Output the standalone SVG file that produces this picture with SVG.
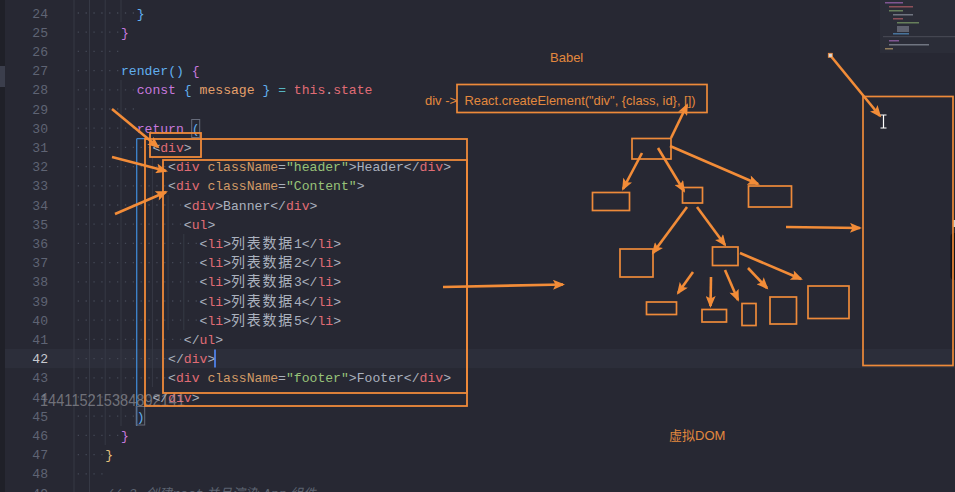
<svg xmlns="http://www.w3.org/2000/svg" width="955" height="492" viewBox="0 0 955 492">
<defs>
<marker id="ah" viewBox="0 0 12 10" markerWidth="13" markerHeight="10" refX="10" refY="5" orient="auto" markerUnits="userSpaceOnUse">
<path d="M0,0 L12,5 L0,10 L2.5,5 Z" fill="#f28c38"/>
</marker>
<style>
.code{font-family:"Liberation Mono","DejaVu Sans Mono",monospace;font-size:13.1px;white-space:pre}
.ln{fill:#5f6474;text-anchor:end}
.p{fill:#aab1be}.t{fill:#e06c75}.a{fill:#d19a66}.s{fill:#98c379}.k{fill:#c678dd}.f{fill:#61afef}.v{fill:#e5a06b}.o{fill:#56b6c2}.y{fill:#e5c07b}
.cjk{font-family:"Noto Sans CJK SC",sans-serif;font-size:14px;letter-spacing:1.74px}
.cm{fill:#5c6370;font-style:italic}
.cmc{font-family:"Noto Sans CJK SC",sans-serif;font-size:13px}
.guide{stroke:#363945;stroke-width:1}
.ann{font-family:"Liberation Sans","Noto Sans CJK SC",sans-serif;font-size:13px;fill:#e3883e}
.box{fill:none;stroke:#ee8a3a;stroke-width:1.7}
.cbox{fill:none;stroke:#f08a3a;stroke-width:1.8}
.arr{fill:none;stroke:#f28c38;stroke-width:2.6;marker-end:url(#ah)}
</style>
</defs>
<g id="editor">
<rect x="0" y="0" width="955" height="492" fill="#272833"/>
<rect x="0" y="0" width="5" height="492" fill="#1f2028"/>
<rect x="0" y="66" width="5" height="21" fill="#3b3e4c"/>
<rect x="5" y="349" width="950" height="19.2" fill="#2c2e3a"/>
<rect x="880" y="0" width="75" height="53" fill="#2b2d38"/>
<g opacity="0.55">
<rect x="885" y="2" width="18" height="1.5" fill="#c678dd"/><rect x="889" y="6" width="24" height="1.5" fill="#e06c75"/>
<rect x="889" y="10" width="14" height="1.5" fill="#98c379"/><rect x="893" y="14" width="20" height="1.5" fill="#aab1be"/>
<rect x="893" y="18" width="10" height="1.5" fill="#e06c75"/><rect x="897" y="22" width="22" height="1.5" fill="#98c379"/>
<rect x="897" y="26" width="12" height="6" fill="#8a8f9c"/><rect x="893" y="33" width="16" height="1.5" fill="#61afef"/>
<rect x="889" y="40" width="10" height="1.5" fill="#c678dd"/><rect x="889" y="44" width="40" height="1.5" fill="#aab1be"/>
<rect x="885" y="48" width="8" height="1.5" fill="#e5c07b"/>
</g>
<line x1="883" y1="36.7" x2="955" y2="36.7" stroke="#4a4d58" stroke-width="1"/>
<rect x="953" y="220" width="2" height="7" fill="#d0d0d0"/>
<rect x="950.5" y="233" width="8" height="47" rx="4" fill="#121318"/>
</g>
<g id="guides">
<line class="guide" x1="74" y1="0" x2="74" y2="492"/>
<line class="guide" x1="89.5" y1="0" x2="89.5" y2="492"/>
<line class="guide" x1="105.2" y1="0" x2="105.2" y2="445"/>
<line class="guide" x1="121" y1="0" x2="121" y2="22"/>
<line class="guide" x1="121" y1="80" x2="121" y2="426"/>
<line class="guide" x1="152.4" y1="157" x2="152.4" y2="387"/>
<line class="guide" x1="168.1" y1="195" x2="168.1" y2="330"/>
<line class="guide" x1="183.8" y1="234" x2="183.8" y2="330"/>
<path d="M136.7,138.7 H150 M136.7,138.7 V426" fill="none" stroke="#3f86cf" stroke-width="1.3"/>
<path fill="none" stroke="#444856" stroke-width="1.3" stroke-dasharray="1.3 6.56" d="M77.7,13 H135 M77.7,32.2 H119 M77.7,51.4 H119 M77.7,70.6 H119 M77.7,89.8 H135 M77.7,109 H135 M77.7,128.2 H135 M77.7,147.4 H150 M77.7,166.6 H166 M77.7,185.8 H166 M77.7,205 H182 M77.7,224.2 H182 M77.7,243.4 H198 M77.7,262.6 H198 M77.7,281.8 H198 M77.7,301 H198 M77.7,320.2 H198 M77.7,339.4 H182 M77.7,358.6 H166 M77.7,377.8 H166 M77.7,397 H150 M77.7,416.2 H135 M77.7,435.4 H119 M77.7,454.6 H103 M77.7,473.8 H103"/>
</g>
<g id="code" class="code">
<text class="ln" x="48" y="17.5">24</text>
<text class="ln" x="48" y="36.7">25</text>
<text class="ln" x="48" y="55.9">26</text>
<text class="ln" x="48" y="75.1">27</text>
<text class="ln" x="48" y="94.3">28</text>
<text class="ln" x="48" y="113.5">29</text>
<text class="ln" x="48" y="132.7">30</text>
<text class="ln" x="48" y="151.9">31</text>
<text class="ln" x="48" y="171.1">32</text>
<text class="ln" x="48" y="190.3">33</text>
<text class="ln" x="48" y="209.5">34</text>
<text class="ln" x="48" y="228.7">35</text>
<text class="ln" x="48" y="247.9">36</text>
<text class="ln" x="48" y="267.1">37</text>
<text class="ln" x="48" y="286.3">38</text>
<text class="ln" x="48" y="305.5">39</text>
<text class="ln" x="48" y="324.7">40</text>
<text class="ln" x="48" y="343.9">41</text>
<text class="ln" x="48" y="363.1" style="fill:#c8cad0">42</text>
<text class="ln" x="48" y="382.3">43</text>
<text class="ln" x="48" y="401.5">44</text>
<text class="ln" x="48" y="420.7">45</text>
<text class="ln" x="48" y="439.9">46</text>
<text class="ln" x="48" y="459.1">47</text>
<text class="ln" x="48" y="478.3">48</text>
<text class="ln" x="48" y="497.5">49</text>

<text x="136.7" y="17.5" class="f">}</text>
<text x="121" y="36.7" class="k">}</text>
<text x="121" y="75.1"><tspan class="f">render()</tspan><tspan class="k"> {</tspan></text>
<text x="136.7" y="94.3"><tspan class="k">const</tspan><tspan class="f"> {</tspan><tspan class="v"> message </tspan><tspan class="f">}</tspan><tspan class="o"> = </tspan><tspan class="t">this</tspan><tspan class="p">.</tspan><tspan class="t">state</tspan></text>
<text x="136.7" y="132.7"><tspan class="k">return</tspan><tspan class="f"> (</tspan></text>
<text x="152.4" y="151.9"><tspan class="p">&lt;</tspan><tspan class="t">div</tspan><tspan class="p">&gt;</tspan></text>
<text x="168.1" y="171.1"><tspan class="p">&lt;</tspan><tspan class="t">div</tspan><tspan class="a"> className</tspan><tspan class="p">=</tspan><tspan class="s">"header"</tspan><tspan class="p">&gt;Header&lt;/</tspan><tspan class="t">div</tspan><tspan class="p">&gt;</tspan></text>
<text x="168.1" y="190.3"><tspan class="p">&lt;</tspan><tspan class="t">div</tspan><tspan class="a"> className</tspan><tspan class="p">=</tspan><tspan class="s">"Content"</tspan><tspan class="p">&gt;</tspan></text>
<text x="183.8" y="209.5"><tspan class="p">&lt;</tspan><tspan class="t">div</tspan><tspan class="p">&gt;Banner&lt;/</tspan><tspan class="t">div</tspan><tspan class="p">&gt;</tspan></text>
<text x="183.8" y="228.7"><tspan class="p">&lt;</tspan><tspan class="t">ul</tspan><tspan class="p">&gt;</tspan></text>
<text x="199.6" y="247.9"><tspan class="p">&lt;</tspan><tspan class="t">li</tspan><tspan class="p">&gt;</tspan><tspan x="231" class="cjk p">列表数据</tspan><tspan x="293.9" class="p">1&lt;/</tspan><tspan class="t">li</tspan><tspan class="p">&gt;</tspan></text>
<text x="199.6" y="267.1"><tspan class="p">&lt;</tspan><tspan class="t">li</tspan><tspan class="p">&gt;</tspan><tspan x="231" class="cjk p">列表数据</tspan><tspan x="293.9" class="p">2&lt;/</tspan><tspan class="t">li</tspan><tspan class="p">&gt;</tspan></text>
<text x="199.6" y="286.3"><tspan class="p">&lt;</tspan><tspan class="t">li</tspan><tspan class="p">&gt;</tspan><tspan x="231" class="cjk p">列表数据</tspan><tspan x="293.9" class="p">3&lt;/</tspan><tspan class="t">li</tspan><tspan class="p">&gt;</tspan></text>
<text x="199.6" y="305.5"><tspan class="p">&lt;</tspan><tspan class="t">li</tspan><tspan class="p">&gt;</tspan><tspan x="231" class="cjk p">列表数据</tspan><tspan x="293.9" class="p">4&lt;/</tspan><tspan class="t">li</tspan><tspan class="p">&gt;</tspan></text>
<text x="199.6" y="324.7"><tspan class="p">&lt;</tspan><tspan class="t">li</tspan><tspan class="p">&gt;</tspan><tspan x="231" class="cjk p">列表数据</tspan><tspan x="293.9" class="p">5&lt;/</tspan><tspan class="t">li</tspan><tspan class="p">&gt;</tspan></text>
<text x="183.8" y="343.9"><tspan class="p">&lt;/</tspan><tspan class="t">ul</tspan><tspan class="p">&gt;</tspan></text>
<text x="168.1" y="363.1"><tspan class="p">&lt;/</tspan><tspan class="t">div</tspan><tspan class="p">&gt;</tspan></text>
<text x="168.1" y="382.3"><tspan class="p">&lt;</tspan><tspan class="t">div</tspan><tspan class="a"> className</tspan><tspan class="p">=</tspan><tspan class="s">"footer"</tspan><tspan class="p">&gt;Footer&lt;/</tspan><tspan class="t">div</tspan><tspan class="p">&gt;</tspan></text>
<text x="152.4" y="401.5"><tspan class="p">&lt;/</tspan><tspan class="t">div</tspan><tspan class="p">&gt;</tspan></text>
<text x="136.7" y="420.7" class="f">)</text>
<text x="121" y="439.9" class="k">}</text>
<text x="105.2" y="459.1" class="y">}</text>
<text y="497.5" class="cm"><tspan x="105.2">// 2. </tspan><tspan x="146" class="cmc">创建</tspan><tspan x="172">root</tspan><tspan x="206" class="cmc">并且渲染</tspan><tspan x="263">App</tspan><tspan x="290" class="cmc">组件</tspan></text>
</g>
<g id="editor-marks">
<rect x="191.7" y="119.5" width="8" height="18" fill="none" stroke="#666b7a" stroke-width="1"/>
<rect x="136.2" y="406.5" width="8.5" height="18.5" fill="none" stroke="#666b7a" stroke-width="1"/>
<line x1="215" y1="349.5" x2="215" y2="367.5" stroke="#528bff" stroke-width="1.6"/>
<text x="40" y="406" textLength="145" lengthAdjust="spacingAndGlyphs" font-family="Liberation Sans, sans-serif" font-size="17" fill="#a3a4aa" fill-opacity="0.6">144115215384892141</text>
</g>
<g id="code-boxes">
<rect class="cbox" x="145" y="139" width="322" height="267"/>
<rect class="cbox" x="163" y="160" width="304" height="233"/>
<rect class="cbox" x="150" y="133" width="51" height="24"/>
</g>
<g id="labels">
<text class="ann" x="550" y="61.5">Babel</text>
<text class="ann" x="425" y="105">div -&gt;</text>
<text class="ann" x="669" y="440">虚拟DOM</text>
</g>
<g id="createElement">
<rect class="box" x="457" y="84.5" width="250" height="28"/>
<text class="ann" x="464.5" y="105" textLength="231" lengthAdjust="spacingAndGlyphs">React.createElement("div", {class, id}, [])</text>
</g>
<g id="vdom-root"><rect class="box" x="632" y="138.5" width="39" height="20.5"/></g>
<g id="vdom-n1"><rect class="box" x="592.5" y="192.5" width="37" height="18"/></g>
<g id="vdom-n2"><rect class="box" x="682.5" y="187.5" width="20" height="15.5"/></g>
<g id="vdom-n3"><rect class="box" x="748.5" y="186" width="43" height="21"/></g>
<g id="vdom-n4"><rect class="box" x="620" y="249" width="33" height="28"/></g>
<g id="vdom-n5"><rect class="box" x="712.5" y="247" width="25.5" height="18.5"/></g>
<g id="vdom-n6"><rect class="box" x="646.5" y="302" width="30" height="12.5"/></g>
<g id="vdom-n7"><rect class="box" x="702" y="309.5" width="24.5" height="12.5"/></g>
<g id="vdom-n8"><rect class="box" x="742" y="303.5" width="14" height="22"/></g>
<g id="vdom-n9"><rect class="box" x="770" y="297" width="26.5" height="27"/></g>
<g id="vdom-n10"><rect class="box" x="808" y="286" width="41" height="32.5"/></g>
<g id="real-dom"><rect class="box" x="863" y="96.5" width="90" height="269"/></g>
<g id="connectors">
<path class="arr" d="M112,109 L158,147"/>
<path class="arr" d="M112,157 L166,171"/>
<path class="arr" d="M115,214 L166,192"/>
<path class="arr" d="M443,287 L563,284.5"/>
<path class="arr" d="M671,138 L687,105"/>
<path class="arr" d="M642,153 L623,189"/>
<path class="arr" d="M658,148 L684,191"/>
<path class="arr" d="M670,146 L758,184"/>
<path class="arr" d="M687,207 L653,253"/>
<path class="arr" d="M697,207 L725,245"/>
<path class="arr" d="M693,272 L678,293"/>
<path class="arr" d="M711,277 L710.5,306"/>
<path class="arr" d="M725,270 L738,300"/>
<path class="arr" d="M748,268 L767,288"/>
<path class="arr" d="M740,253 L801,279"/>
<path class="arr" d="M786,227 L860,228"/>
<path class="arr" d="M830,55 L880,116"/>
<rect x="828.3" y="53.3" width="4" height="4" fill="#d8d8d8" stroke="#f08a3a" stroke-width="0.8"/>
<path d="M880.5,115 H886.5 M883.5,115 V128 M880.5,128 H886.5" fill="none" stroke="#ffffff" stroke-width="1.2"/>
</g>
</svg>
